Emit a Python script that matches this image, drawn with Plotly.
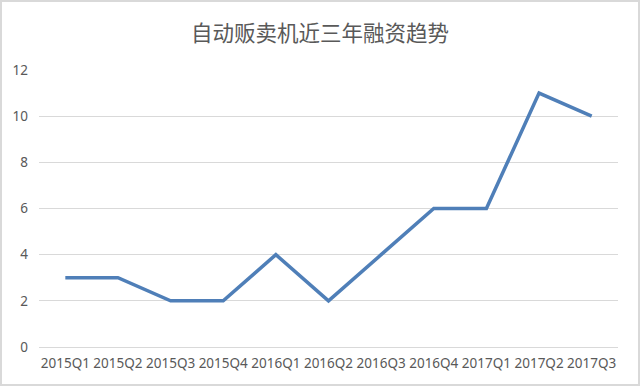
import plotly.graph_objects as go

quarters = ["2015Q1", "2015Q2", "2015Q3", "2015Q4", "2016Q1", "2016Q2",
            "2016Q3", "2016Q4", "2017Q1", "2017Q2", "2017Q3"]
funding = [3, 3, 2, 2, 4, 2, 4, 6, 6, 11, 10]
y_ticks = [0, 2, 4, 6, 8, 10, 12]
title_text = "自动贩卖机近三年融资趋势"

W, H = 640, 386
ml, mr, mt, mb = 39, 22, 70, 39
pw, ph = W - ml - mr, H - mt - mb

fig = go.Figure()
fig.add_trace(go.Scatter(
    x=list(range(len(quarters))), y=funding, mode="lines",
    line=dict(color="#4F7FB8", width=3.5),
    hoverinfo="skip", showlegend=False,
))

fig.update_layout(
    width=W, height=H,
    margin=dict(l=ml, r=mr, t=mt, b=mb),
    paper_bgcolor="white", plot_bgcolor="white",
    title=dict(text=title_text, x=0.5, xanchor="center", y=1 - 33 / H, yanchor="middle",
               font=dict(family="Noto Sans CJK SC", size=21.5, color="#595959")),
    xaxis=dict(tickmode="array", tickvals=list(range(len(quarters))), ticktext=quarters,
               range=[-0.5, len(quarters) - 0.5], showgrid=False, zeroline=False,
               showline=False, ticks="", ticklen=0, tickangle=0, ticklabelstandoff=6,
               tickfont=dict(family="Noto Sans", size=13.5, color="#595959")),
    yaxis=dict(tickmode="array", tickvals=y_ticks, range=[0, 12],
               showgrid=True, gridcolor="#D9D9D9", gridwidth=1,
               zeroline=True, zerolinecolor="#D9D9D9", zerolinewidth=1,
               showline=False, ticks="", ticklen=0, ticklabelstandoff=10,
               tickfont=dict(family="Noto Sans", size=13.5, color="#595959")),
    shapes=[dict(type="rect", xref="paper", yref="paper",
                 x0=(1 - ml) / pw, x1=1 + (mr - 1) / pw,
                 y0=-(mb - 1) / ph, y1=1 + (mt - 1) / ph,
                 line=dict(color="#D9D9D9", width=2), layer="below")],
)

fig.write_html("out.html")
